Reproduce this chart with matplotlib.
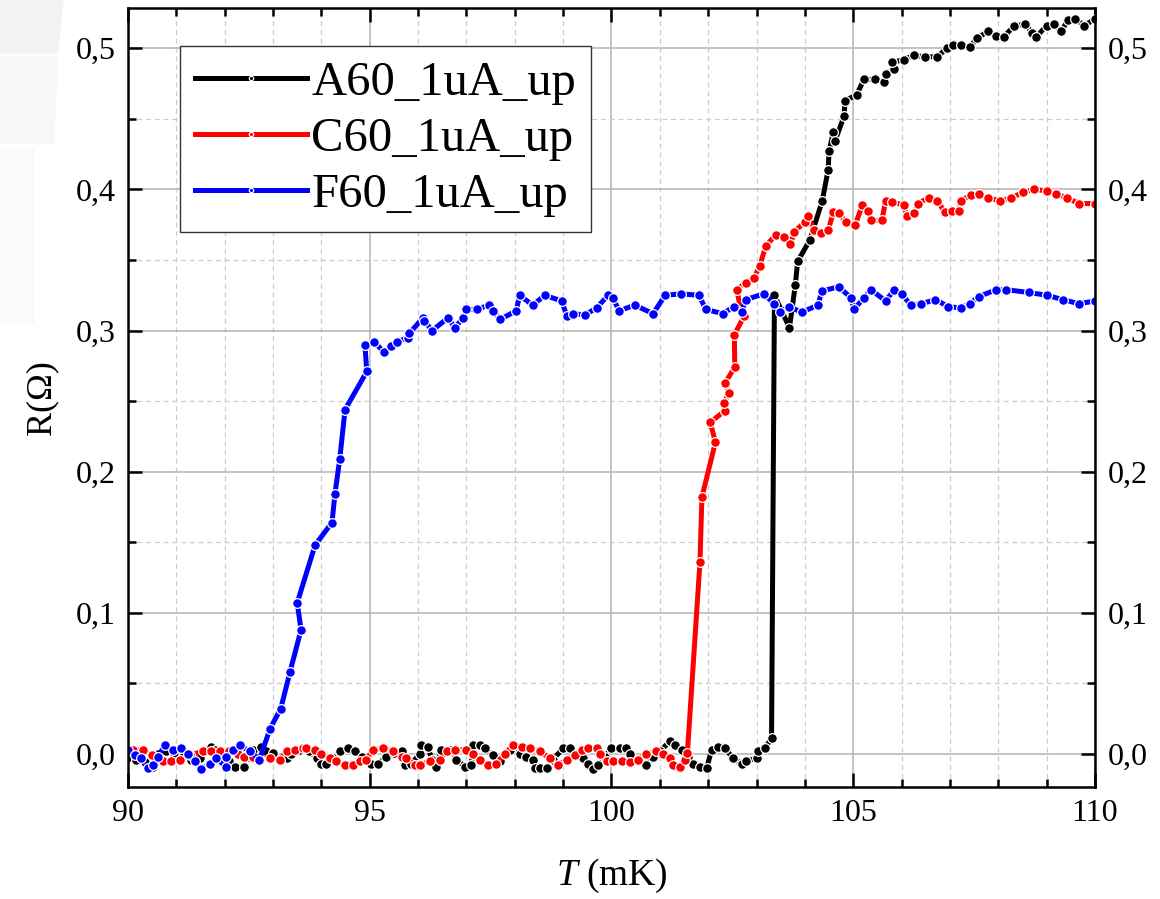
import numpy as np
import matplotlib
matplotlib.use('Agg')
import matplotlib.pyplot as plt
from matplotlib.patches import Polygon
from matplotlib.ticker import MultipleLocator, FuncFormatter

# Datos (T en mK, R en Ohm)
t_a60 = [90.03, 90.17, 90.35, 90.52, 90.62, 90.79, 90.95, 91.14, 91.31, 91.48, 91.59, 91.72,
         91.79, 91.90, 92.10, 92.21, 92.41, 92.48, 92.59, 92.76, 92.86, 93.00, 93.14, 93.28,
         93.38, 93.55, 93.75, 93.90, 94.00, 94.10, 94.25, 94.38, 94.55, 94.69, 94.85, 95.03,
         95.17, 95.34, 95.50, 95.66, 95.72, 95.86, 96.03, 96.07, 96.21, 96.28, 96.38, 96.48,
         96.69, 96.79, 96.97, 97.10, 97.14, 97.28, 97.38, 97.55, 97.69, 97.90, 98.10, 98.24,
         98.38, 98.41, 98.52, 98.66, 98.79, 99.00, 99.14, 99.30, 99.41, 99.52, 99.62, 99.72,
         99.86, 100.00, 100.17, 100.31, 100.38, 100.55, 100.72, 100.86, 101.00, 101.21, 101.31,
         101.45, 101.59, 101.69, 101.83, 101.97, 102.07, 102.21, 102.34, 102.52, 102.69, 102.79,
         103.00, 103.03, 103.17, 103.31, 103.37, 103.68, 103.80, 103.85, 104.10, 104.36, 104.48,
         104.50, 104.59, 104.62, 104.81, 104.83, 105.07, 105.22, 105.44, 105.63, 105.67, 105.85,
         105.81, 106.04, 106.26, 106.48, 106.74, 106.93, 107.07, 107.22, 107.41, 107.56, 107.78,
         107.96, 108.11, 108.33, 108.56, 108.70, 108.78, 109.00, 109.15, 109.30, 109.44, 109.59,
         109.78, 110.00]
r_a60 = [-0.002, -0.004, -0.006, -0.009, 0.000, 0.002, 0.001, 0.002, -0.004, -0.003, 0.002, 0.005,
         0.003, -0.002, -0.005, -0.009, -0.009, -0.002, 0.003, 0.005, 0.002, 0.001, -0.004, -0.003,
         0.000, 0.003, 0.002, -0.003, -0.007, -0.007, -0.003, 0.002, 0.004, 0.002, -0.002, -0.007,
         -0.007, -0.002, 0.001, 0.002, -0.008, -0.007, 0.000, 0.006, 0.005, -0.004, -0.009, 0.003,
         0.003, -0.004, -0.009, -0.008, 0.006, 0.006, 0.004, -0.001, -0.005, 0.003, 0.000, -0.002,
         -0.004, -0.010, -0.010, -0.010, -0.004, 0.004, 0.004, 0.001, -0.003, -0.007, -0.011, -0.008,
         -0.002, 0.004, 0.004, 0.004, 0.000, -0.005, -0.008, -0.002, 0.002, 0.009, 0.006,
         0.003, -0.002, -0.007, -0.009, -0.010, 0.003, 0.005, 0.004, -0.003, -0.007, -0.005,
         -0.003, 0.002, 0.004, 0.011, 0.325, 0.302, 0.332, 0.349, 0.364, 0.392, 0.414,
         0.427, 0.441, 0.434, 0.452, 0.463, 0.467, 0.478, 0.478, 0.476, 0.482, 0.485,
         0.490, 0.492, 0.495, 0.494, 0.494, 0.500, 0.502, 0.502, 0.501, 0.507, 0.512,
         0.509, 0.508, 0.516, 0.517, 0.511, 0.508, 0.516, 0.517, 0.512, 0.520, 0.521,
         0.516, 0.521]

t_c60 = [90.00, 90.10, 90.31, 90.50, 90.72, 90.90, 91.07, 91.28, 91.55, 91.72, 91.90, 92.10,
         92.28, 92.41, 92.59, 92.72, 92.93, 93.14, 93.28, 93.45, 93.62, 93.69, 93.86, 94.00,
         94.17, 94.31, 94.48, 94.66, 94.79, 94.93, 95.07, 95.28, 95.48, 95.66, 95.76, 95.93,
         96.03, 96.24, 96.45, 96.59, 96.76, 97.00, 97.14, 97.28, 97.45, 97.62, 97.79, 97.97,
         98.14, 98.31, 98.52, 98.72, 98.90, 99.07, 99.24, 99.38, 99.52, 99.69, 99.76, 99.90,
         100.03, 100.21, 100.38, 100.55, 100.72, 100.93, 101.07, 101.21, 101.28, 101.41, 101.52,
         101.57, 101.83, 101.87, 102.15, 102.04, 102.34, 102.33, 102.43, 102.35, 102.55, 102.54,
         102.74, 102.68, 102.59, 102.78, 102.94, 103.07, 103.19, 103.40, 103.56, 103.70, 103.78,
         104.00, 104.07, 104.19, 104.33, 104.48, 104.59, 104.70, 104.85, 105.04, 105.19, 105.30,
         105.37, 105.59, 105.67, 105.81, 106.04, 106.11, 106.26, 106.33, 106.56, 106.74, 106.89,
         107.04, 107.19, 107.22, 107.44, 107.59, 107.78, 108.04, 108.26, 108.52, 108.74, 109.00,
         109.19, 109.41, 109.67, 110.00]
r_c60 = [0.002, 0.003, 0.003, -0.001, -0.005, -0.005, -0.004, -0.001, 0.002, 0.002, 0.002, 0.002,
         0.000, -0.002, -0.002, -0.003, -0.003, -0.004, 0.002, 0.003, 0.004, 0.004, 0.003, 0.000,
         -0.003, -0.005, -0.008, -0.008, -0.005, -0.004, 0.003, 0.004, 0.002, -0.002, -0.003, -0.008,
         -0.008, -0.005, -0.004, 0.002, 0.003, 0.003, 0.000, -0.004, -0.008, -0.007, 0.000, 0.006,
         0.005, 0.004, 0.002, -0.003, -0.008, -0.004, -0.001, 0.003, 0.004, 0.004, 0.000, -0.005,
         -0.005, -0.005, -0.006, -0.004, 0.000, 0.002, 0.000, -0.003, -0.008, -0.009, -0.004,
         0.001, 0.136, 0.182, 0.221, 0.235, 0.243, 0.249, 0.256, 0.263, 0.274, 0.297,
         0.310, 0.314, 0.329, 0.334, 0.337, 0.346, 0.360, 0.368, 0.366, 0.361, 0.370,
         0.377, 0.381, 0.371, 0.369, 0.371, 0.384, 0.383, 0.377, 0.375, 0.389, 0.385,
         0.378, 0.378, 0.392, 0.391, 0.389, 0.381, 0.383, 0.390, 0.394, 0.392, 0.384,
         0.385, 0.385, 0.392, 0.396, 0.397, 0.394, 0.392, 0.394, 0.398, 0.400, 0.399,
         0.397, 0.394, 0.390, 0.390]

t_f60 = [90.00, 90.15, 90.28, 90.41, 90.52, 90.62, 90.76, 90.93, 91.10, 91.24, 91.38, 91.52,
         91.69, 91.83, 92.02, 92.03, 92.17, 92.31, 92.52, 92.72, 92.94, 93.16, 93.35, 93.58,
         93.50, 93.87, 94.22, 94.28, 94.38, 94.49, 94.94, 94.90, 95.09, 95.29, 95.45, 95.56,
         95.79, 95.82, 96.10, 96.13, 96.29, 96.62, 96.76, 96.93, 97.00, 97.21, 97.47, 97.55,
         97.70, 98.03, 98.10, 98.37, 98.62, 98.97, 99.08, 99.21, 99.45, 99.69, 99.93, 100.03,
         100.16, 100.48, 100.86, 101.11, 101.44, 101.81, 101.95, 102.30, 102.54, 102.69, 102.78,
         103.15, 103.37, 103.48, 103.67, 103.93, 104.27, 104.35, 104.70, 104.96, 105.01, 105.22,
         105.36, 105.67, 105.85, 106.00, 106.19, 106.41, 106.70, 106.96, 107.22, 107.41, 107.59,
         107.96, 108.15, 108.63, 109.00, 109.33, 109.67, 110.00]
r_f60 = [0.003, -0.001, -0.003, -0.010, -0.008, -0.002, 0.006, 0.003, 0.004, 0.000, -0.005, -0.011,
         -0.007, -0.003, -0.009, -0.002, 0.003, 0.006, 0.002, -0.004, 0.018, 0.032, 0.058, 0.088,
         0.107, 0.148, 0.164, 0.184, 0.209, 0.244, 0.271, 0.290, 0.292, 0.285, 0.289, 0.292,
         0.295, 0.298, 0.309, 0.307, 0.300, 0.309, 0.302, 0.309, 0.315, 0.315, 0.318, 0.314,
         0.308, 0.314, 0.325, 0.318, 0.325, 0.321, 0.310, 0.312, 0.311, 0.316, 0.325, 0.323,
         0.314, 0.318, 0.312, 0.325, 0.326, 0.325, 0.315, 0.312, 0.317, 0.313, 0.322,
         0.326, 0.319, 0.313, 0.317, 0.313, 0.318, 0.328, 0.331, 0.323, 0.315, 0.323,
         0.329, 0.321, 0.329, 0.326, 0.318, 0.319, 0.322, 0.317, 0.316, 0.319, 0.324,
         0.329, 0.329, 0.327, 0.325, 0.322, 0.319, 0.321]

series = [('A60_1uA_up', t_a60, r_a60, 'black'),
          ('C60_1uA_up', t_c60, r_c60, 'red'),
          ('F60_1uA_up', t_f60, r_f60, 'blue')]

plt.rcParams['font.family'] = ['Liberation Serif', 'DejaVu Serif']
plt.rcParams['mathtext.fontset'] = 'custom'
plt.rcParams['mathtext.rm'] = 'Liberation Serif'
plt.rcParams['mathtext.it'] = 'Liberation Serif:italic'

fig = plt.figure(figsize=(11.6, 8.99), dpi=100)

# marca de agua muy tenue arriba a la izquierda (fondo de la figura)
for pts, col in [([(0, 1), (0.055, 1), (0.05, 0.94), (0, 0.94)], '#f2f2f2'),
                 ([(0, 0.938), (0.05, 0.938), (0.047, 0.84), (0, 0.84)], '#f7f7f7'),
                 ([(0, 0.835), (0.03, 0.835), (0.03, 0.64), (0, 0.64)], '#fafafa')]:
    fig.patches.append(Polygon(pts, closed=True, transform=fig.transFigure,
                               facecolor=col, edgecolor='none', zorder=0))

ax = fig.add_axes([0.1103, 0.1246, 0.8337, 0.8664])

for nombre, t, r, color in series:
    ax.plot(t, r, '-', color=color, lw=3.6, marker='o', ms=7,
            mfc=color, mec='white', mew=0.9, label=nombre)

ax.set_xlim(90, 110)
ax.set_ylim(-0.0234, 0.5285)

ax.xaxis.set_major_locator(MultipleLocator(5))
ax.xaxis.set_minor_locator(MultipleLocator(1))
ax.yaxis.set_major_locator(MultipleLocator(0.1))
ax.yaxis.set_minor_locator(MultipleLocator(0.05))
ax.yaxis.set_major_formatter(FuncFormatter(lambda v, p: f'{v:.1f}'.replace('.', ',')))

ax.grid(which='major', color='#b4b4b4', lw=1.1, ls='-')
ax.grid(which='minor', color='#cccccc', lw=0.9, ls=(0, (4, 3)))
ax.set_axisbelow(True)

ax.tick_params(which='both', direction='in', top=True, right=True,
               labelright=True, width=1.8, labelsize=23, pad=9)
ax.tick_params(which='major', length=10)
ax.tick_params(which='minor', length=5.5)
for s in ax.spines.values():
    s.set_linewidth(1.8)

ax.set_xlabel(r'$T$ (mK)', fontsize=27, labelpad=20)
ax.set_ylabel('R(Ω)', fontsize=26, labelpad=12)

leg = ax.legend(loc='upper left', bbox_to_anchor=(0.054, 0.951), borderaxespad=0,
                fontsize=35, fancybox=False, framealpha=1, edgecolor='#333333',
                handlelength=2.3, handletextpad=0.1, labelspacing=0.25,
                borderpad=0.3, markerscale=0.45)
leg.get_frame().set_linewidth(1.0)

fig.savefig('out.png', dpi=100)
